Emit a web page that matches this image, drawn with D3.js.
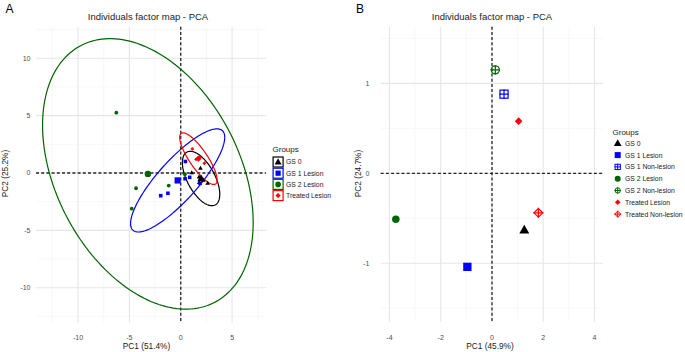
<!DOCTYPE html>
<html><head><meta charset="utf-8">
<script src="https://cdn.jsdelivr.net/npm/d3@7"></script>
<style>body{margin:0;background:#fff} svg{display:block;font-family:"Liberation Sans",Arial,Helvetica,sans-serif}</style>
</head><body>
<svg id="chart" width="685" height="352"></svg>
<script>
// ---------------- DATA ----------------
// Panel A
const aGroups = ["GS 0", "GS 1 Lesion", "GS 2 Lesion", "Treated Lesion"];
const aGS0 = [[1.07, 0.03], [1.92, 0.42], [1.78, -0.35], [2.2, -0.62], [2.62, -0.88], [1.8, -0.82]];
const aGS1 = [[0.45, 1.0], [-1.95, -1.98], [-1.25, -1.77], [0.42, -0.5], [0.87, -0.38], [1.88, -0.9]];
const aGS2 = [[-6.27, 5.26], [-4.35, -1.33], [-4.77, -3.11], [-1.17, -1.1], [0.4, -0.1]];
const aTreated = [[1.13, 2.1], [1.49, 1.19], [1.68, 1.31], [1.88, 1.37], [2.3, 0.85]];
const aCentroids = [[1.98, -0.48], [-0.3, -0.65], [-3.2, -0.08], [1.72, 1.25]];
// ellipse covariance entries [var PC1, var PC2, cov]
const aEllipseCov = [[3.31, 5.62, -2.5], [21.0, 20.2, 17.2], [105.1, 139.0, -43.5], [3.31, 5.07, -3.37]];
const aXTicks = [-10, -5, 0, 5];
const aYTicks = [-10, -5, 0, 5, 10];

// Panel B
const bGroups = ["GS 0", "GS 1 Lesion", "GS 1 Non-lesion", "GS 2 Lesion", "GS 2 Non-lesion", "Treated Lesion", "Treated Non-lesion"];
const bPC1 = [1.26, -0.96, 0.47, -3.75, 0.13, 1.04, 1.81];
const bPC2 = [-0.63, -1.04, 0.88, -0.51, 1.15, 0.58, -0.44];
const bXTicks = [-4, -2, 0, 2, 4];
const bYTicks = [-1, 0, 1];

// ---------------- STYLE ----------------
const colA = ["#000000", "#0000FF", "#006400", "#FF0000"];
const shapeA = ["tri", "sq", "circ", "dia"];
const colB = ["#000000", "#0000FF", "#0000FF", "#006400", "#006400", "#FF0000", "#FF0000"];
const shapeB = ["tri", "sq", "sqplus", "circ", "circplus", "dia", "diaplus"];

const svg = d3.select("#chart");
const FONT = '"Liberation Sans",Arial,sans-serif';

function drawMarker(g, shape, color, s) {
  const h = s / 2;
  if (shape === "tri") {
    const H = s * 0.88;
    g.append("path").attr("d", `M0,${-H * 0.6}L${h},${H * 0.4}L${-h},${H * 0.4}Z`).attr("fill", color);
  } else if (shape === "sq") {
    g.append("rect").attr("x", -h).attr("y", -h).attr("width", s).attr("height", s).attr("fill", color);
  } else if (shape === "circ") {
    g.append("circle").attr("r", h).attr("fill", color);
  } else if (shape === "dia") {
    g.append("path").attr("d", `M0,${-h}L${h},0L0,${h}L${-h},0Z`).attr("fill", color);
  } else if (shape === "sqplus") {
    const w = Math.max(1, s * 0.13);
    g.append("rect").attr("x", -h + w / 2).attr("y", -h + w / 2).attr("width", s - w).attr("height", s - w)
      .attr("fill", "none").attr("stroke", color).attr("stroke-width", w);
    g.append("path").attr("d", `M${-h},0H${h}M0,${-h}V${h}`).attr("stroke", color).attr("stroke-width", w);
  } else if (shape === "circplus") {
    const w = Math.max(1, s * 0.13);
    g.append("circle").attr("r", h - w / 2).attr("fill", "none").attr("stroke", color).attr("stroke-width", w);
    g.append("path").attr("d", `M${-h},0H${h}M0,${-h}V${h}`).attr("stroke", color).attr("stroke-width", w);
  } else if (shape === "diaplus") {
    const w = Math.max(1, s * 0.12);
    const r = h - w / 2;
    g.append("path").attr("d", `M0,${-r}L${r},0L0,${r}L${-r},0Z`).attr("fill", "none").attr("stroke", color).attr("stroke-width", w);
    g.append("path").attr("d", `M${-h},0H${h}M0,${-h}V${h}`).attr("stroke", color).attr("stroke-width", w);
  }
}

function panel(opts) {
  const { x, y, xMinor, yMinor, xTicks, yTicks, title, titleX, xTitle, xTitleX, yTitle, yTitleX, yLabRight, label, labelX } = opts;
  const g = svg.append("g");
  const [x0, x1] = x.range(), [y1, y0] = y.range();
  // minor grid
  g.selectAll(".vmin").data(xMinor).join("line")
    .attr("x1", d => x(d)).attr("x2", d => x(d)).attr("y1", y0).attr("y2", y1)
    .attr("stroke", "#f3f3f3").attr("stroke-width", 0.6);
  g.selectAll(".hmin").data(yMinor).join("line")
    .attr("y1", d => y(d)).attr("y2", d => y(d)).attr("x1", x0).attr("x2", x1)
    .attr("stroke", "#f3f3f3").attr("stroke-width", 0.6);
  // major grid
  g.selectAll(".vmaj").data(xTicks).join("line")
    .attr("x1", d => x(d)).attr("x2", d => x(d)).attr("y1", y0).attr("y2", y1)
    .attr("stroke", "#e6e6e6").attr("stroke-width", 1.1);
  g.selectAll(".hmaj").data(yTicks).join("line")
    .attr("y1", d => y(d)).attr("y2", d => y(d)).attr("x1", x0).attr("x2", x1)
    .attr("stroke", "#e6e6e6").attr("stroke-width", 1.1);
  // tick labels
  g.selectAll(".xt").data(xTicks).join("text")
    .attr("x", d => x(d)).attr("y", 339.5).attr("text-anchor", "middle")
    .attr("font-size", 7).attr("fill", "#4d4d4d").text(d => d);
  g.selectAll(".yt").data(yTicks).join("text")
    .attr("x", yLabRight).attr("y", d => y(d) + 2.5).attr("text-anchor", "end")
    .attr("font-size", 7).attr("fill", "#4d4d4d").text(d => d);
  // titles
  g.append("text").attr("x", titleX).attr("y", 20).attr("text-anchor", "middle")
    .attr("font-size", 9.5).attr("fill", "#1a1a1a").text(title);
  g.append("text").attr("x", xTitleX).attr("y", 348.5).attr("text-anchor", "middle")
    .attr("font-size", 8.3).attr("fill", "#1a1a1a").text(xTitle);
  g.append("text").attr("transform", `translate(${yTitleX},173.5) rotate(-90)`).attr("text-anchor", "middle")
    .attr("font-size", 8.3).attr("fill", "#1a1a1a").text(yTitle);
  g.append("text").attr("x", labelX).attr("y", 12.5).attr("font-size", 12).attr("fill", "#000").text(label);
  return g;
}

function zeroLines(g, x, y) {
  const [x0, x1] = x.range(), [y1, y0] = y.range();
  g.append("line").attr("x1", x0).attr("x2", x1).attr("y1", y(0)).attr("y2", y(0))
    .attr("stroke", "#262626").attr("stroke-width", 1.3).attr("stroke-dasharray", "3,2.2");
  g.append("line").attr("x1", x(0)).attr("x2", x(0)).attr("y1", y0).attr("y2", y1)
    .attr("stroke", "#262626").attr("stroke-width", 1.3).attr("stroke-dasharray", "3,2.2");
}

// ---------------- PANEL A ----------------
const xA = d3.scaleLinear().domain([-14.09, 8.3]).range([36, 266]);
const yA = d3.scaleLinear().domain([-13.05, 12.75]).range([322.7, 26.7]);
const gA = panel({
  x: xA, y: yA, xMinor: [-12.5, -7.5, -2.5, 2.5, 7.5], yMinor: [-12.5, -7.5, -2.5, 2.5, 7.5, 12.5],
  xTicks: aXTicks, yTicks: aYTicks, title: "Individuals factor map - PCA", titleX: 148,
  xTitle: "PC1 (51.4%)", xTitleX: 146.5, yTitle: "PC2 (25.2%)", yTitleX: 8.3, yLabRight: 30.5,
  label: "A", labelX: 5.5
});
zeroLines(gA, xA, yA);

// ellipses
const tSteps = d3.range(0, 2 * Math.PI + 0.001, Math.PI / 90);
aEllipseCov.forEach((cv, i) => {
  const [sxx, syy, sxy] = cv;
  const l11 = Math.sqrt(sxx), l21 = sxy / l11, l22 = Math.sqrt(syy - l21 * l21);
  const [cx, cy] = aCentroids[i];
  const pts = tSteps.map(t => [xA(cx + l11 * Math.cos(t)), yA(cy + l21 * Math.cos(t) + l22 * Math.sin(t))]);
  gA.append("path").attr("d", d3.line()(pts)).attr("fill", "none")
    .attr("stroke", colA[i]).attr("stroke-width", 1.2);
});

// individual points
const aSets = [aGS0, aGS1, aGS2, aTreated];
const aSizes = [4.6, 3.6, 3.8, 3.8];
aSets.forEach((set, i) => {
  set.forEach(p => {
    const m = gA.append("g").attr("transform", `translate(${xA(p[0])},${yA(p[1])})`);
    drawMarker(m, shapeA[i], colA[i], aSizes[i]);
  });
});
// centroids
const aCSizes = [7.5, 6.2, 6.4, 6.2];
aCentroids.forEach((p, i) => {
  const m = gA.append("g").attr("transform", `translate(${xA(p[0])},${yA(p[1])})`);
  drawMarker(m, shapeA[i], colA[i], aCSizes[i]);
});

// legend A
const legA = svg.append("g").attr("transform", "translate(272.5,0)");
legA.append("text").attr("x", 0).attr("y", 152).attr("font-size", 8).attr("fill", "#1a1a1a").text("Groups");
aGroups.forEach((name, i) => {
  const cy = 162 + i * 11.2;
  legA.append("rect").attr("x", 0.6).attr("y", cy - 5).attr("width", 10).attr("height", 10)
    .attr("fill", "#fff").attr("stroke", colA[i]).attr("stroke-width", 1.2);
  const m = legA.append("g").attr("transform", `translate(5.6,${cy})`);
  drawMarker(m, shapeA[i], colA[i], [7, 5.2, 5.6, 5.2][i]);
  legA.append("text").attr("x", 13.5).attr("y", cy + 2.4).attr("font-size", 6.8).attr("fill", "#1a1a1a").text(name);
});

// ---------------- PANEL B ----------------
const xB = d3.scaleLinear().domain([-4.34, 4.33]).range([380.7, 603]);
const yB = d3.scaleLinear().domain([-1.65, 1.63]).range([321.7, 26.7]);
const gB = panel({
  x: xB, y: yB, xMinor: [-3, -1, 1, 3], yMinor: [-1.5, -0.5, 0.5, 1.5],
  xTicks: bXTicks, yTicks: bYTicks, title: "Individuals factor map - PCA", titleX: 492,
  xTitle: "PC1 (45.9%)", xTitleX: 490, yTitle: "PC2 (24.7%)", yTitleX: 360.5, yLabRight: 369.3,
  label: "B", labelX: 356
});
zeroLines(gB, xB, yB);
const bSizes = [10, 8.3, 9.3, 7.5, 9.3, 7.6, 10];
bGroups.forEach((name, i) => {
  const m = gB.append("g").attr("transform", `translate(${xB(bPC1[i])},${yB(bPC2[i])})`);
  drawMarker(m, shapeB[i], colB[i], bSizes[i]);
});

// legend B
const legB = svg.append("g").attr("transform", "translate(612.5,0)");
legB.append("text").attr("x", 0).attr("y", 134.5).attr("font-size", 8).attr("fill", "#1a1a1a").text("Groups");
const bLegSizes = [7.7, 6, 6.3, 6, 6.3, 5.6, 7];
bGroups.forEach((name, i) => {
  const cy = 143.3 + i * 11.8;
  const m = legB.append("g").attr("transform", `translate(5.2,${cy})`);
  drawMarker(m, shapeB[i], colB[i], bLegSizes[i]);
  legB.append("text").attr("x", 12.5).attr("y", cy + 2.4).attr("font-size", 6.8).attr("fill", "#1a1a1a").text(name);
});
</script>
</body></html>
